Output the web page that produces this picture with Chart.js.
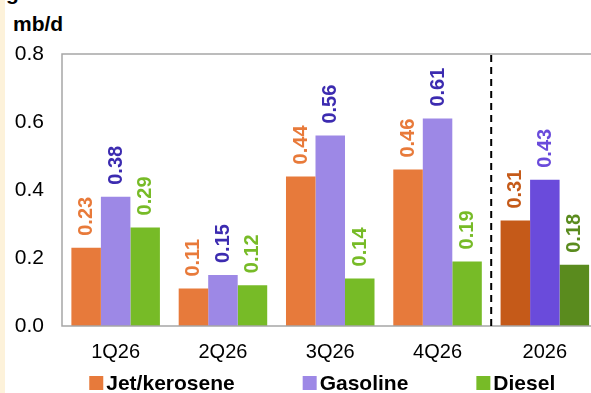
<!DOCTYPE html>
<html>
<head>
<meta charset="utf-8">
<script src="https://cdn.jsdelivr.net/npm/chart.js@4"></script>
<style>
  html, body { margin: 0; padding: 0; width: 591px; height: 393px; overflow: hidden; background: #fff; }
  #strip { position: absolute; left: 0; top: 0; width: 5px; height: 393px; background: #fdf2da; }
  .head { position: absolute; font: bold 21px "Liberation Sans", Arial, sans-serif; line-height: 21px; color: #000; white-space: nowrap; }
  #wrap { position: absolute; left: 0; top: 0; width: 600px; height: 393px; }
</style>
</head>
<body>
<div id="strip"></div>
<div class="head" style="left:6px; top:-18px;">gasoline and diesel</div>
<div class="head" style="left:13px; top:13px;">mb/d</div>
<div id="wrap"><canvas id="chart" width="600" height="393"></canvas></div>
<script>
const periods = ['1Q26', '2Q26', '3Q26', '4Q26', '2026'];
const jetKerosene = [0.23, 0.11, 0.44, 0.46, 0.31];
const gasoline = [0.38, 0.15, 0.56, 0.61, 0.43];
const diesel = [0.29, 0.12, 0.14, 0.19, 0.18];
const yTicks = [0, 0.2, 0.4, 0.6, 0.8];

const FONT = '"Liberation Sans", Arial, sans-serif';

// quarters in the lighter shade, full year in the darker one
function shades(light, dark) {
    return periods.map((p, i) => i === periods.length - 1 ? dark : light);
}

// value labels written upward above each bar
const valueLabels = {
    id: 'valueLabels',
    afterDatasetsDraw(chart) {
        const ctx = chart.ctx;
        ctx.save();
        ctx.font = 'bold 20px ' + FONT;
        ctx.textAlign = 'left';
        ctx.textBaseline = 'middle';
        chart.data.datasets.forEach((ds, di) => {
            chart.getDatasetMeta(di).data.forEach((bar, i) => {
                ctx.save();
                ctx.translate(bar.x + 0.5, bar.y - 12);
                ctx.rotate(-Math.PI / 2);
                ctx.fillStyle = ds.labelColor[i];
                ctx.fillText(ds.data[i].toFixed(2), 0, 0);
                ctx.restore();
            });
        });
        ctx.restore();
    }
};

// frame round the plot and the dashed split before the full-year group
const frame = {
    id: 'frame',
    afterDatasetsDraw(chart) {
        const {ctx, chartArea: a, scales: {x}} = chart;
        ctx.save();
        ctx.strokeStyle = '#a6a6a6';
        ctx.lineWidth = 1.5;
        ctx.strokeRect(a.left, a.top, a.right - a.left, a.bottom - a.top);
        const xs = (x.getPixelForValue(3) + x.getPixelForValue(4)) / 2;
        ctx.strokeStyle = '#000';
        ctx.lineWidth = 2;
        ctx.setLineDash([7, 5]);
        ctx.beginPath();
        ctx.moveTo(xs, a.top + 1);
        ctx.lineTo(xs, a.bottom);
        ctx.stroke();
        ctx.restore();
    }
};

// one row of series keys under the axis, spaced wider than the built-in legend allows
const seriesKey = {
    id: 'seriesKey',
    afterDraw(chart) {
        const {ctx, chartArea: a} = chart;
        const box = 14, textGap = 3, itemGap = 68, y = 383;
        ctx.save();
        ctx.font = 'bold 21px ' + FONT;
        ctx.textBaseline = 'middle';
        const items = chart.data.datasets.map(ds => ({
            text: ds.label,
            color: ds.backgroundColor[0],
            w: box + textGap + ctx.measureText(ds.label).width
        }));
        const total = items.reduce((s, it) => s + it.w, 0) + itemGap * (items.length - 1);
        let x = (a.left + a.right) / 2 - 8 - total / 2;
        items.forEach(it => {
            ctx.fillStyle = it.color;
            ctx.fillRect(x, y - box / 2, box, box);
            ctx.fillStyle = '#000';
            ctx.fillText(it.text, x + box + textGap, y + 1);
            x += it.w + itemGap;
        });
        ctx.restore();
    }
};

new Chart(document.getElementById('chart'), {
    type: 'bar',
    data: {
        labels: periods,
        datasets: [{
            label: 'Jet/kerosene',
            data: jetKerosene,
            backgroundColor: shades('#e77a3b', '#c55a19'),
            labelColor: shades('#e87a3a', '#c55a19')
        }, {
            label: 'Gasoline',
            data: gasoline,
            backgroundColor: shades('#9d88e6', '#6a4bdb'),
            labelColor: shades('#3c2bb0', '#6a4bdb')
        }, {
            label: 'Diesel',
            data: diesel,
            backgroundColor: shades('#77bb27', '#5a8b1e'),
            labelColor: shades('#77bb27', '#5a8b1e')
        }]
    },
    options: {
        responsive: false,
        animation: false,
        layout: {padding: {top: 54, right: 1.5, left: 0, bottom: 0}},
        datasets: {bar: {categoryPercentage: 0.825, barPercentage: 1}},
        plugins: {
            tooltip: {enabled: false},
            legend: {display: false}
        },
        scales: {
            x: {
                grid: {display: false, drawTicks: false},
                border: {display: false},
                ticks: {color: '#000', font: {family: FONT, size: 20}, padding: 14},
                afterFit(s) { s.height = 67; }
            },
            y: {
                min: 0,
                max: 0.8,
                grid: {display: false, drawTicks: false},
                border: {display: false},
                afterBuildTicks(s) { s.ticks = yTicks.map(v => ({value: v})); },
                ticks: {
                    color: '#000',
                    font: {family: FONT, size: 21},
                    padding: 18,
                    callback: v => v.toFixed(1)
                },
                afterFit(s) { s.width = 62; }
            }
        }
    },
    plugins: [valueLabels, frame, seriesKey]
});
</script>
</body>
</html>
